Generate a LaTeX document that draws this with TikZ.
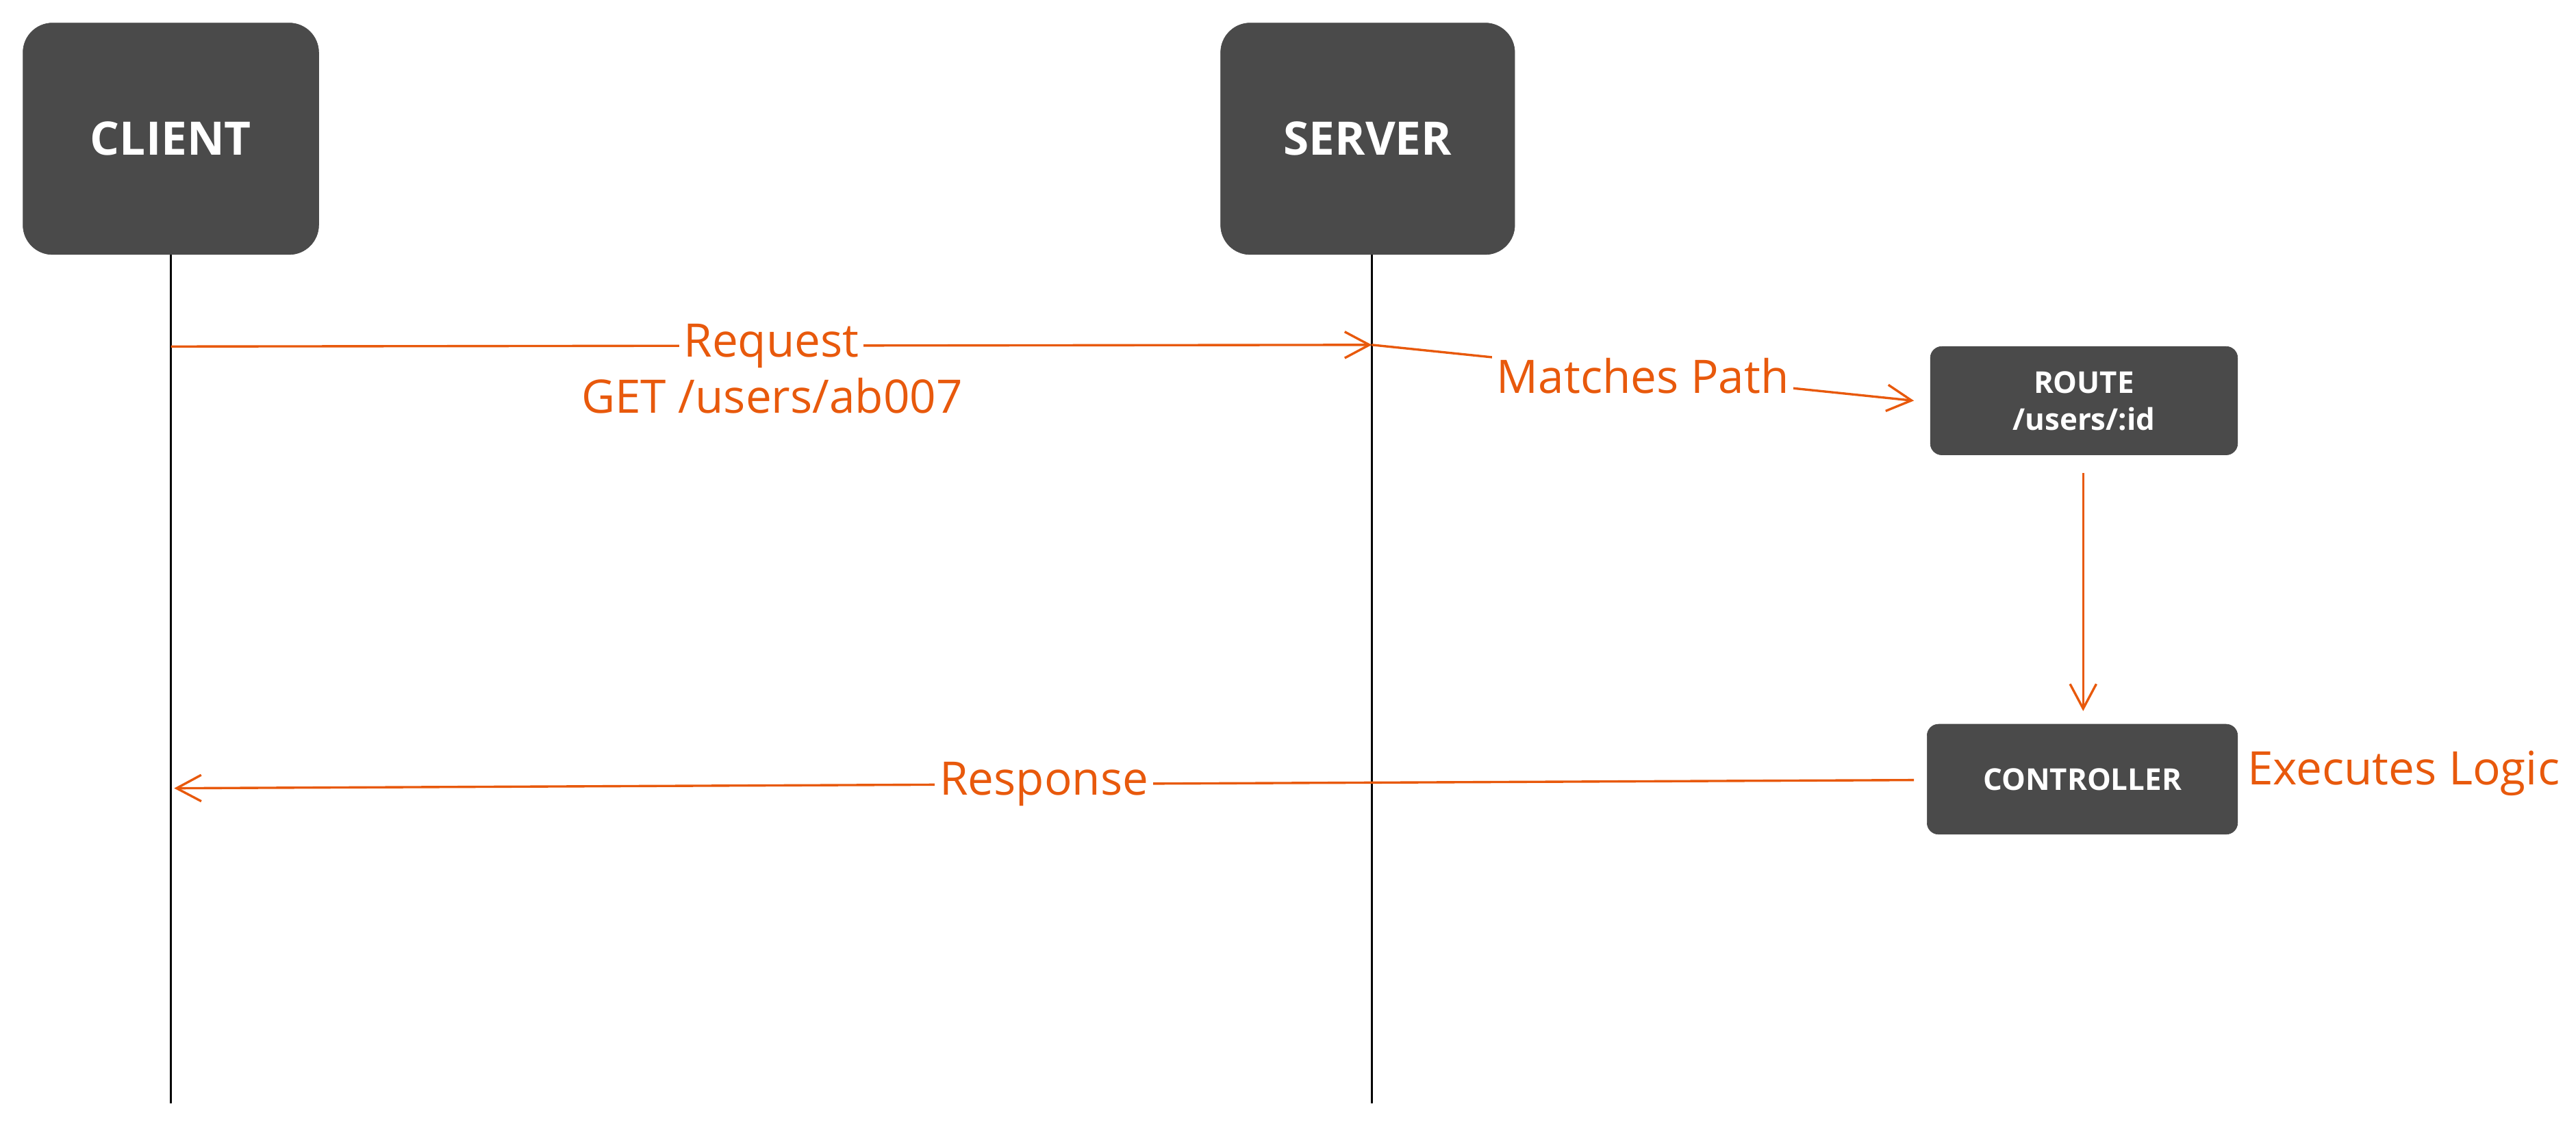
\documentclass[tikz,border=0pt]{standalone}
\usepackage{fontspec}
\setmainfont{Open Sans}
\usetikzlibrary{arrows.meta}
\definecolor{box}{HTML}{4A4A4A}
\definecolor{org}{HTML}{E8590C}
\begin{document}
\begin{tikzpicture}[x=0.05cm,y=-0.05cm,
  actor/.style={fill=box,draw=box,rounded corners=0.9cm,text=white,font=\fontsize{40}{44}\selectfont\bfseries},
  small/.style={fill=box,draw=box,rounded corners=0.35cm,text=white,font=\fontsize{26}{32}\selectfont\bfseries,align=center},
  life/.style={line width=2pt,black},
  msg/.style={line width=2pt,org,-{Straight Barb[length=0.75cm,width=0.8cm,line width=2pt]}},
  lbl/.style={text=org,font=\fontsize{40}{48}\selectfont,fill=white,inner sep=4pt}]
\useasboundingbox (0,0) rectangle (1568,686.5);
\fill[white] (0,0) rectangle (1568,686.5);
\draw[life] (104,150) -- (104,672);
\draw[life] (835,150) -- (835,672);
\node[actor,minimum width=9cm,minimum height=7.05cm] (client) at (104,84.5) {CLIENT};
\node[actor,minimum width=8.95cm,minimum height=7.05cm] (server) at (832.5,84.5) {SERVER};
\node[small,minimum width=9.35cm,minimum height=3.3cm] (route) at (1268.5,244) {ROUTE\\/users/:id};
\node[small,minimum width=9.45cm,minimum height=3.35cm] (ctrl) at (1267.5,474.5) {CONTROLLER};
\coordinate (c1) at (104,211);
\coordinate (s1) at (835,210);
\coordinate (r1) at (1165,244);
\coordinate (r2) at (1268,288);
\coordinate (k1) at (1268,433);
\coordinate (k2) at (1165,475);
\coordinate (c2) at (106,480);
\draw[msg] (c1) -- node[lbl,pos=0.5] (req) {Request} (s1);
\node[text=org,font=\fontsize{40}{48}\selectfont] (get) at (470,241) {GET /users/ab007};
\draw[msg] (s1) -- node[lbl,pos=0.5,yshift=-0.1cm] (mp) {Matches Path} (r1);
\draw[msg] (r2) -- (k1);
\draw[msg] (k2) -- node[lbl,pos=0.5] (resp) {Response} (c2);
\node[text=org,font=\fontsize{40}{48}\selectfont] (exe) at (1463,471) {Executes Logic};
\end{tikzpicture}
\end{document}
